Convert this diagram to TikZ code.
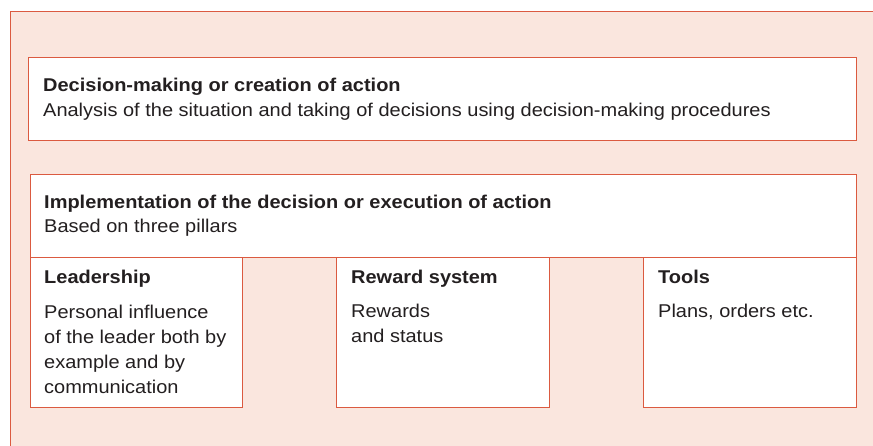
\documentclass[tikz,border=0pt]{standalone}
\usepackage{fontspec}
\setmainfont[FakeStretch=1.08]{Liberation Sans}
\definecolor{boxline}{HTML}{DB5A40}
\definecolor{boxfill}{HTML}{FAE6DE}
\definecolor{boxtext}{HTML}{231F20}

\begin{document}
\begin{tikzpicture}[x=1pt, y=-1pt,
		frame/.style={draw=boxline, line width=1.1pt, fill=white, anchor=north west, inner sep=0pt},
		head/.style={anchor=base west, inner sep=0pt, text=boxtext, font=\bfseries\fontsize{18.5}{25}\selectfont},
		body/.style={anchor=base west, inner sep=0pt, text=boxtext, align=left, font=\fontsize{18.5}{25}\selectfont}]
		\clip (0,0) rectangle (873,446);
		\draw[fill=boxfill, draw=boxline, line width=1.4pt] (10.5,11.5) rectangle (890,460);

		\node[frame, minimum width=828pt, minimum height=83pt] (decision) at (28,57) {};
		\node[frame, minimum width=212pt, minimum height=150pt] (leadership) at (30,257) {};
		\node[frame, minimum width=213pt, minimum height=150pt] (reward) at (336,257) {};
		\node[frame, minimum width=213pt, minimum height=150pt] (tools) at (643,257) {};
		\node[frame, minimum width=826pt, minimum height=83pt] (implementation) at (30,174) {};

		\node[head] (decisionhead) at (43,92) {Decision-making or creation of action};
		\node[body] (decisionbody) at (43,117) {Analysis of the situation and taking of decisions using decision-making procedures};
		\node[head] (implementationhead) at (44,209) {Implementation of the decision or execution of action};
		\node[body] (implementationbody) at (44,233) {Based on three pillars};

		% multi-line texts sit on the baseline of their last line
		\node[head] (leadershiphead) at (44,284) {Leadership};
		\node[body] (leadershipbody) at (44,393) {Personal influence\\of the leader both by\\example and by\\communication};
		\node[head] (rewardhead) at (351,284) {Reward system};
		\node[body] (rewardbody) at (351,343) {Rewards\\and status};
		\node[head] (toolshead) at (658,284) {Tools};
		\node[body] (toolsbody) at (658,318) {Plans, orders etc.};
	\end{tikzpicture}
\end{document}
